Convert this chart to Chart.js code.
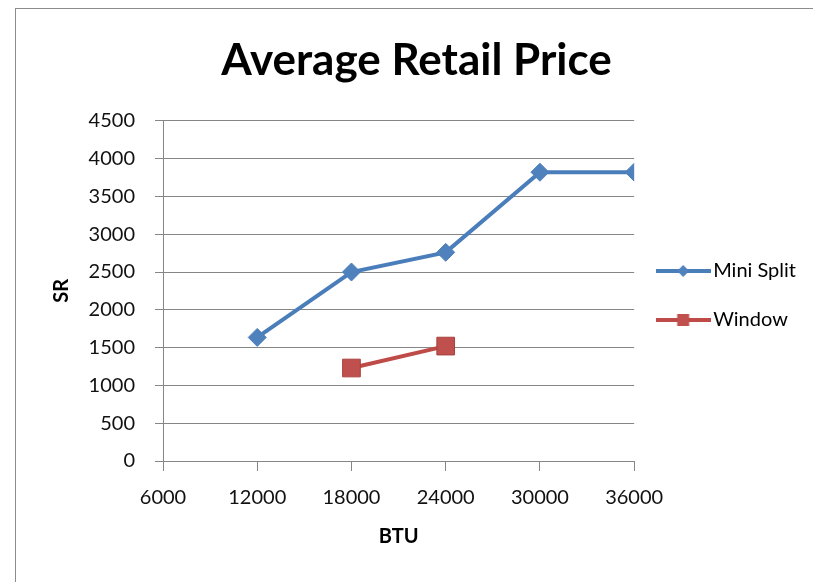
<!DOCTYPE html>
<html>
<head>
<meta charset="utf-8">
<title>Average Retail Price</title>
<script src="https://cdn.jsdelivr.net/npm/chart.js@4.4.1/dist/chart.umd.min.js"></script>
<style>
  html, body { margin: 0; padding: 0; background: #fff; overflow: hidden; }
  #frame {
    position: absolute;
    left: 15px;
    top: 8px;
    width: 810px;
    height: 600px;
    border: 1px solid #8c8c8c;
  }
  #priceChart { display: block; }
</style>
</head>
<body>
<div id="frame">
  <canvas id="priceChart" width="801" height="573"></canvas>
</div>
<script>
// Dados
const miniSplitBtu = [12000, 18000, 24000, 30000, 36000];
const miniSplitPrices = [1635, 2500, 2760, 3820, 3820];
const windowBtu = [18000, 24000];
const windowPrices = [1230, 1520];

// Ticks dos eixos
const xTicks = [6000, 12000, 18000, 24000, 30000, 36000];
const yTicks = [0, 500, 1000, 1500, 2000, 2500, 3000, 3500, 4000, 4500];

const FONT = "Lato, 'Open Sans', sans-serif";
const BLUE_LINE = "#4A7EBB";
const BLUE_MARK = "#4F81BD";
const RED_LINE = "#BE4B48";
const RED_MARK = "#C0504D";
const GRID = "#868686";

// Ícone da legenda: linha + marcador (desenhado numa canvas pequena)
function legendIcon(kind) {
  const c = document.createElement("canvas");
  c.width = 55;
  c.height = 22;
  const g = c.getContext("2d");
  const cy = 11, cx = 27.5;
  g.strokeStyle = kind === "diamond" ? BLUE_LINE : RED_LINE;
  g.lineWidth = 4;
  g.beginPath();
  g.moveTo(0, cy);
  g.lineTo(55, cy);
  g.stroke();
  g.fillStyle = kind === "diamond" ? BLUE_MARK : RED_MARK;
  g.beginPath();
  if (kind === "diamond") {
    g.moveTo(cx - 6, cy);
    g.lineTo(cx, cy - 6);
    g.lineTo(cx + 6, cy);
    g.lineTo(cx, cy + 6);
  } else {
    g.rect(cx - 6, cy - 6, 12, 12);
  }
  g.closePath();
  g.fill();
  return c;
}

const icons = [legendIcon("diamond"), legendIcon("square")];

const toPoints = (xs, ys) => xs.map((x, i) => ({ x: x, y: ys[i] }));

const ctx = document.getElementById("priceChart").getContext("2d");

const myChart = new Chart(ctx, {
  type: "line",
  data: {
    datasets: [
      {
        label: "Mini Split",
        data: toPoints(miniSplitBtu, miniSplitPrices),
        borderColor: BLUE_LINE,
        backgroundColor: BLUE_MARK,
        borderWidth: 4,
        pointStyle: "rectRot",
        pointRadius: 9,
        pointBorderWidth: 1,
        pointBorderColor: BLUE_MARK,
        pointBackgroundColor: BLUE_MARK,
        tension: 0,
      },
      {
        label: "Window",
        data: toPoints(windowBtu, windowPrices),
        borderColor: RED_LINE,
        backgroundColor: RED_MARK,
        borderWidth: 4,
        pointStyle: "rect",
        pointRadius: 12.5,
        pointBorderWidth: 1,
        pointBorderColor: "#A8403D",
        pointBackgroundColor: RED_MARK,
        tension: 0,
      },
    ],
  },
  options: {
    responsive: false,
    animation: false,
    devicePixelRatio: 1,
    layout: { padding: { left: 11, right: 11, top: 0, bottom: 0 } },
    plugins: {
      tooltip: { enabled: false },
      title: {
        display: true,
        text: "Average Retail Price",
        color: "#000",
        font: { family: FONT, size: 44, weight: "bold" },
        padding: { top: 25, bottom: 34 },
      },
      legend: {
        position: "right",
        maxWidth: 300,
        labels: {
          color: "#000",
          font: { family: FONT, size: 20 },
          usePointStyle: true,
          pointStyleWidth: 40,
          padding: 29,
          generateLabels: (chart) =>
            chart.data.datasets.map((ds, i) => ({
              text: ds.label,
              pointStyle: icons[i],
              datasetIndex: i,
              fillStyle: "transparent",
              strokeStyle: "transparent",
              lineWidth: 0,
              fontColor: "#000",
            })),
        },
      },
    },
    scales: {
      x: {
        type: "linear",
        min: xTicks[0],
        max: xTicks[xTicks.length - 1],
        afterBuildTicks: (axis) => {
          axis.ticks = xTicks.map((v) => ({ value: v }));
        },
        ticks: {
          color: "#111",
          font: { family: FONT, size: 20 },
          padding: 15,
          maxRotation: 0,
          autoSkip: false,
          callback: (v) => String(v),
        },
        grid: {
          drawOnChartArea: false,
          drawTicks: true,
          tickLength: 10,
          tickColor: GRID,
          color: GRID,
        },
        border: { color: GRID, width: 1 },
        title: {
          display: true,
          text: "BTU",
          color: "#000",
          font: { family: FONT, size: 20, weight: "bold" },
          padding: { top: 12, bottom: 33 },
        },
        afterFit: (axis) => {
          axis.height = 121;
        },
      },
      y: {
        type: "linear",
        min: yTicks[0],
        max: yTicks[yTicks.length - 1],
        afterBuildTicks: (axis) => {
          axis.ticks = yTicks.map((v) => ({ value: v }));
        },
        ticks: {
          color: "#111",
          font: { family: FONT, size: 20 },
          padding: 20,
          callback: (v) => String(v),
        },
        grid: {
          color: GRID,
          lineWidth: 1,
          drawTicks: true,
          tickLength: 8,
          tickColor: GRID,
        },
        border: { color: GRID, width: 1 },
        title: {
          display: true,
          text: "SR",
          color: "#000",
          font: { family: FONT, size: 20, weight: "bold" },
          padding: { top: 23, bottom: 0 },
        },
        afterFit: (axis) => {
          axis.width = 136;
        },
      },
    },
  },
});
</script>
</body>
</html>
